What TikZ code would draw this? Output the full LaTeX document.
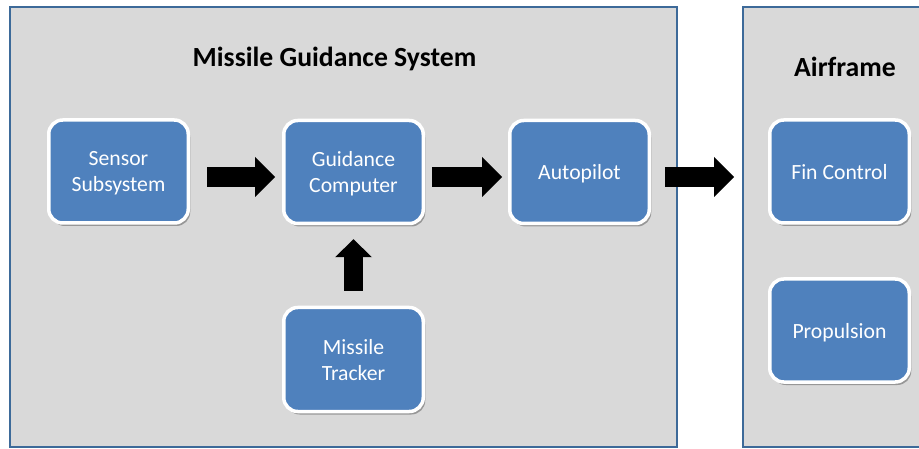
\documentclass[tikz,border=0pt]{standalone}
\usepackage{fontspec}
\setmainfont{Carlito}
\usetikzlibrary{arrows.meta,shadows}
\definecolor{panelfill}{HTML}{D9D9D9}
\definecolor{panelline}{HTML}{3D6A99}
\definecolor{boxblue}{HTML}{4F81BD}
\tikzset{
  panel/.style={fill=panelfill,draw=panelline,line width=2.5pt},
  boxnode/.style={rounded corners=14pt,fill=boxblue,draw=white,line width=3.5pt,
    minimum width=139.5pt,minimum height=103pt,inner sep=0pt,align=center,
    text depth=0pt,
    text=white,font=\fontsize{21.7}{26}\selectfont,
    drop shadow={shadow xshift=2pt,shadow yshift=-3pt,fill=black,opacity=0.3}},
  paneltitle/.style={anchor=base,font=\bfseries\fontsize{27.7}{32}\selectfont,text=black,inner sep=0pt},
  blockarrow/.style={line width=20pt,black,-{Triangle[length=20pt,width=40pt,line width=0pt]}},
}
\begin{document}
\begin{tikzpicture}[x=1pt,y=-1pt]
\useasboundingbox (0,0) rectangle (919,449);
\clip (0,0) rectangle (919,449);
\fill[white] (0,0) rectangle (919,449);
\draw[panel] (10,7) rectangle (677,447);
\draw[panel] (743,7) rectangle (940,447);
\node[paneltitle] (t1) at (334.5,67) {Missile Guidance System};
\node[paneltitle] (t2) at (845,77) {Airframe};
\node[boxnode] (sen) at (118.5,171.5) {Sensor\\Subsystem};
\node[boxnode] (gc) at (353.5,172) {Guidance\\Computer};
\node[boxnode] (ap) at (579.5,172) {Autopilot};
\node[boxnode,minimum height=104pt] (mt) at (353.5,359.5) {Missile\\Tracker};
\node[boxnode] (fc) at (839.5,171.5) {Fin Control};
\node[boxnode] (pr) at (839.5,330.5) {Propulsion};
\draw[blockarrow] ([xshift=17pt,yshift=-5.5pt]sen.east) -- ([xshift=-7pt,yshift=-5pt]gc.west);
\draw[blockarrow] ([xshift=7pt,yshift=-5pt]gc.east) -- ([xshift=-6pt,yshift=-5pt]ap.west);
\draw[blockarrow] ([xshift=14pt,yshift=-5pt]ap.east) -- ([xshift=-34pt,yshift=-5.5pt]fc.west);
\draw[blockarrow,line width=19pt,-{Triangle[length=18pt,width=37pt,line width=0pt]}] ([yshift=15pt]mt.north) -- ([yshift=-14pt]gc.south);
\end{tikzpicture}
\end{document}
